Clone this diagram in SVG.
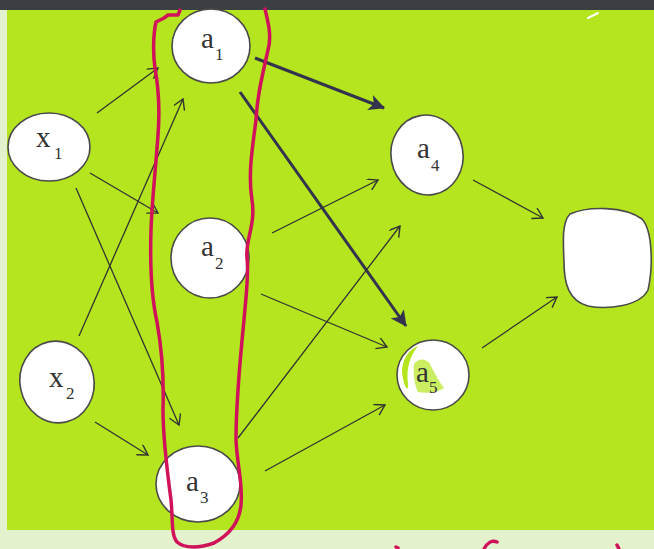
<svg xmlns="http://www.w3.org/2000/svg" width="654" height="549" viewBox="0 0 654 549">
<style>
.node{fill:#ffffff;stroke:#4a4a4a;stroke-width:1.6}
.lbl{font-family:"Liberation Serif","Times New Roman",serif;font-size:29px;fill:#333}
.sub{font-family:"Liberation Serif","Times New Roman",serif;font-size:17px;fill:#333}
.thin{stroke:#333;stroke-width:1.3;fill:none;marker-end:url(#chev)}
.bold{stroke:#33334d;stroke-width:3;fill:none;marker-end:url(#tri)}
.red{fill:none;stroke:#cf1259;stroke-width:3.5;stroke-linejoin:round;stroke-linecap:round}
</style>
<defs>
<marker id="chev" markerUnits="userSpaceOnUse" markerWidth="14" markerHeight="14" refX="11" refY="6" orient="auto">
<path d="M1,0 L11,6 L1,12" fill="none" stroke="#333" stroke-width="1.4"/>
</marker>
<marker id="tri" markerUnits="userSpaceOnUse" markerWidth="18" markerHeight="16" refX="15" refY="8" orient="auto">
<path d="M0,0 L16,8 L0,16 L4,8 Z" fill="#33334d"/>
</marker>
</defs>
<rect x="0" y="0" width="654" height="549" fill="#e3f1cd"/>
<rect x="7" y="9" width="647" height="521" fill="#b4e51e"/>
<rect x="0" y="0" width="654" height="10" fill="#3b3e42"/>
<path d="M588,18 L598,13" stroke="#ffffff" stroke-width="2" stroke-linecap="round"/>
<g id="connectors">
<line class="thin" x1="97" y1="113" x2="158" y2="68"/>
<line class="thin" x1="90" y1="173" x2="158" y2="213"/>
<line class="thin" x1="76" y1="188" x2="179" y2="425"/>
<line class="thin" x1="79" y1="336" x2="183" y2="99"/>
<line class="thin" x1="95" y1="422" x2="148" y2="455"/>
<line class="bold" x1="255" y1="58" x2="384" y2="108"/>
<line class="bold" x1="240" y1="92" x2="406" y2="326"/>
<line class="thin" x1="272" y1="233" x2="378" y2="180"/>
<line class="thin" x1="261" y1="294" x2="387" y2="347"/>
<line class="thin" x1="238" y1="438" x2="400" y2="226"/>
<line class="thin" x1="265" y1="471" x2="385" y2="405"/>
<line class="thin" x1="473" y1="180" x2="543" y2="218"/>
<line class="thin" x1="482" y1="348" x2="557" y2="297"/>
</g>
<g id="x1">
<ellipse class="node" cx="49" cy="147" rx="41" ry="34"/>
<text class="lbl" x="36" y="147">x</text><text class="sub" x="54" y="159">1</text>
</g>
<g id="x2">
<ellipse class="node" cx="57" cy="382" rx="37" ry="41" transform="rotate(-12 57 382)"/>
<text class="lbl" x="49" y="387">x</text><text class="sub" x="66" y="399">2</text>
</g>
<g id="a1">
<ellipse class="node" cx="211" cy="46" rx="39" ry="37"/>
<text class="lbl" x="201" y="48">a</text><text class="sub" x="215" y="60">1</text>
</g>
<g id="a2">
<ellipse class="node" cx="210" cy="258" rx="39" ry="40"/>
<text class="lbl" x="201" y="256">a</text><text class="sub" x="215" y="269">2</text>
</g>
<g id="a3">
<ellipse class="node" cx="198" cy="484" rx="42" ry="38"/>
<text class="lbl" x="186" y="491">a</text><text class="sub" x="200" y="503">3</text>
</g>
<g id="a4">
<ellipse class="node" cx="427" cy="155" rx="36" ry="40" transform="rotate(-10 427 155)"/>
<text class="lbl" x="417" y="158">a</text><text class="sub" x="431" y="171">4</text>
</g>
<g id="a5">
<ellipse class="node" cx="433" cy="375" rx="36" ry="35"/>
<path d="M402,372 C402,360 408,350 418,346 C410,356 406,368 408,384 C409,392 404,390 402,372 Z" fill="#b4e51e"/>
<path d="M414,364 C418,358 426,358 430,364 C433,370 438,380 444,388 C438,392 428,394 418,392 C414,384 413,372 414,364 Z" fill="#b4e51e" opacity="0.7"/>
<text class="lbl" x="416" y="382">a</text><text class="sub" x="429" y="393">5</text>
</g>
<g id="out">
<path class="node" d="M570,214 C588,206 624,206 642,219 C653,231 653,268 648,290 C640,306 608,310 588,306 C569,301 564,284 564,262 C563,240 562,222 570,214 Z"/>
</g>
<g id="highlight">
<path class="red" d="M180,10 L178,15 L168,15 L164,18 L156,22 C153,35 153,55 155,68 C158,85 160,110 158,135 C156,165 152,200 151,230 C150,262 151,295 157,322 C162,350 164,380 163,410 C163,440 167,470 171,500 C173,520 171,535 177,542 C185,549 200,548 214,543 C227,536 239,525 241,505 C243,482 237,465 236,440 C236,400 240,360 244,320 C246,295 249,275 247,258 C245,240 256,225 252,200 C248,175 252,150 256,120 C257,100 260,85 268,50 C272,36 268,22 265,9"/>
<path class="red" d="M396,547 L398,548"/>
<path class="red" d="M484,549 C487,543 492,540 497,542"/>
<path class="red" d="M617,545 L619,549"/>
</g>
</svg>
